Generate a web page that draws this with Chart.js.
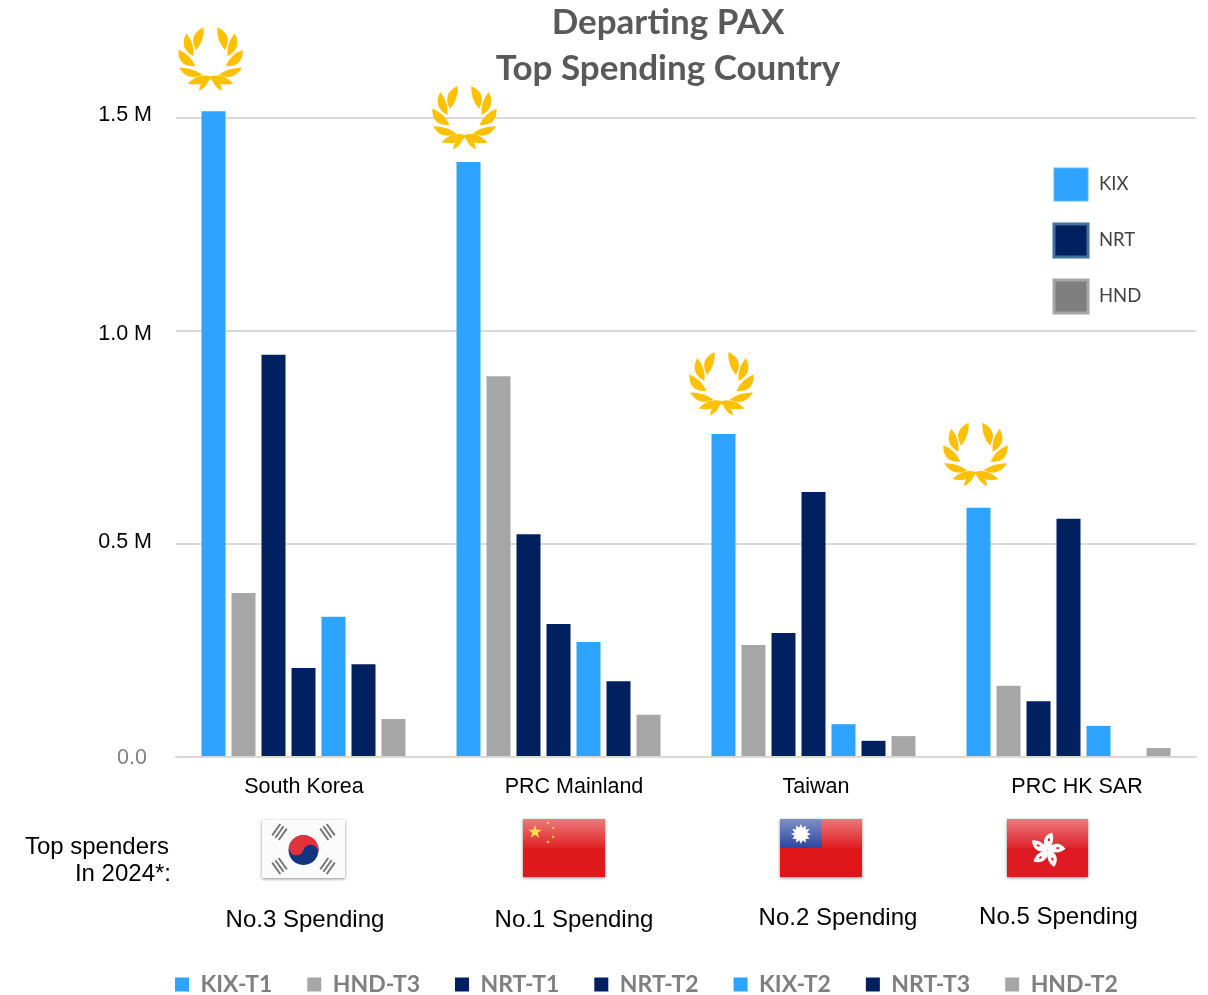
<!DOCTYPE html>
<html>
<head>
<meta charset="utf-8">
<style>html,body{margin:0;padding:0;background:#fff;overflow:hidden}canvas{display:block}</style>
<script src="https://cdn.jsdelivr.net/npm/chart.js@4"></script>
</head>
<body>
<canvas id="c" width="1208" height="995"></canvas>
<script>
const categories = ['South Korea', 'PRC Mainland', 'Taiwan', 'PRC HK SAR'];
const kixT1 = [1516000, 1397000, 758000, 585000];
const hndT3 = [385000, 894000, 263000, 167000];
const nrtT1 = [944000, 523000, 291000, 131000];
const nrtT2 = [209000, 312000, 622000, 559000];
const kixT2 = [329000, 270000, 77000, 73000];
const nrtT3 = [218000, 178000, 38000, 0];
const hndT2 = [89000, 99000, 49000, 21000];
const rankLabels = ['No.3 Spending', 'No.1 Spending', 'No.2 Spending', 'No.5 Spending'];
const miniLegend = ['KIX', 'NRT', 'HND'];
const titleLines = ['Departing PAX', 'Top Spending Country'];

const BLUE = '#2ea3ff', NAVY = '#002060', GREY = '#a6a6a6';
const ARIAL = '"Liberation Sans", Arial, sans-serif';
const LATO = 'Lato, "Open Sans", sans-serif';

function leaf(ctx, bx, by, tx, ty, a, b) {
  const mx = (bx + tx) / 2, my = (by + ty) / 2;
  const dx = tx - bx, dy = ty - by, len = Math.hypot(dx, dy);
  const nx = -dy / len, ny = dx / len;
  ctx.beginPath();
  ctx.moveTo(bx, by);
  ctx.quadraticCurveTo(mx + nx * a, my + ny * a, tx, ty);
  ctx.quadraticCurveTo(mx - nx * b, my - ny * b, bx, by);
  ctx.closePath();
  ctx.fill();
}
function laurel(ctx, cx, cy) {
  ctx.save();
  ctx.translate(cx, cy);
  ctx.fillStyle = '#ffc000';
  [1, -1].forEach(s => {
    ctx.save();
    ctx.scale(s, 1);
    leaf(ctx, 14.5, -9, 6.8, -32, 13, 5);
    leaf(ctx, 17, -3, 24.2, -26, 12, 5);
    leaf(ctx, 15, 7, 32.2, -9.5, 13, 5);
    leaf(ctx, 8, 15.5, 31.5, 8.5, 11, 4);
    ctx.beginPath();
    ctx.moveTo(-1, 17.5);
    ctx.quadraticCurveTo(12, 13, 23, 24.5);
    ctx.quadraticCurveTo(10, 27, 1, 21);
    ctx.closePath();
    ctx.fill();
    leaf(ctx, 1, 19, 11.5, 31.5, 4, 6);
    ctx.restore();
  });
  ctx.restore();
}
function gloss(ctx, x, y, w, h) {
  const g = ctx.createLinearGradient(0, y, 0, y + h * 0.5);
  g.addColorStop(0, 'rgba(255,255,255,0.42)');
  g.addColorStop(1, 'rgba(255,255,255,0.04)');
  ctx.fillStyle = g;
  ctx.fillRect(x, y, w, h * 0.5);
}
function flagBase(ctx, x, y, w, h, color) {
  ctx.save();
  ctx.shadowColor = 'rgba(0,0,0,0.45)';
  ctx.shadowBlur = 3;
  ctx.shadowOffsetY = 1;
  ctx.fillStyle = color;
  ctx.fillRect(x, y, w, h);
  ctx.restore();
}
function star(ctx, cx, cy, r, rot) {
  ctx.beginPath();
  for (let i = 0; i < 10; i++) {
    const rr = i % 2 ? r * 0.4 : r, t = rot + i * Math.PI / 5 - Math.PI / 2;
    ctx.lineTo(cx + rr * Math.cos(t), cy + rr * Math.sin(t));
  }
  ctx.closePath();
  ctx.fill();
}
function flagKR(ctx, x, y, w, h) {
  flagBase(ctx, x, y, w, h, '#fbfbfb');
  const cx = x + w / 2, cy = y + h / 2 + 1, r = 15;
  ctx.save();
  ctx.translate(cx, cy);
  ctx.rotate(0.3);
  ctx.fillStyle = '#13357f';
  ctx.beginPath(); ctx.arc(0, 0, r, 0, Math.PI * 2); ctx.fill();
  ctx.fillStyle = '#e0333c';
  ctx.beginPath(); ctx.arc(0, 0, r, Math.PI, 0);
  ctx.arc(r / 2, 0, r / 2, 0, Math.PI, true);
  ctx.arc(-r / 2, 0, r / 2, 0, Math.PI, false);
  ctx.fill();
  ctx.restore();
  ctx.fillStyle = '#777';
  [[-1, -1], [1, -1], [-1, 1], [1, 1]].forEach(([sx, sy]) => {
    ctx.save();
    ctx.translate(cx + sx * 24, cy + sy * 17 - 1);
    ctx.rotate(Math.atan2(sy * 17, sx * 24) + Math.PI / 2);
    for (let i = -1; i <= 1; i++) ctx.fillRect(-7, i * 4 - 1, 14, 2);
    ctx.restore();
  });
}
function flagCN(ctx, x, y, w, h) {
  flagBase(ctx, x, y, w, h, '#de1a1c');
  gloss(ctx, x, y, w, h);
  ctx.fillStyle = '#fde047';
  star(ctx, x + 12, y + 13, 7, 0);
  [[25, 4], [30, 9], [30, 18], [25, 23]].forEach(p => star(ctx, x + p[0], y + p[1], 1.9, 0.3));
}
function flagTW(ctx, x, y, w, h) {
  flagBase(ctx, x, y, w, h, '#de1519');
  ctx.fillStyle = '#223f9c';
  ctx.fillRect(x, y, w * 0.51, h * 0.5);
  gloss(ctx, x, y, w, h);
  const cx = x + w * 0.255, cy = y + h * 0.26;
  ctx.fillStyle = '#fff';
  ctx.beginPath();
  for (let i = 0; i < 24; i++) {
    const rr = i % 2 ? 6.5 : 10, t = i * Math.PI / 12;
    ctx.lineTo(cx + rr * Math.cos(t), cy + rr * Math.sin(t));
  }
  ctx.closePath();
  ctx.fill();
}
function flagHK(ctx, x, y, w, h) {
  flagBase(ctx, x, y, w, h, '#de1a22');
  gloss(ctx, x, y, w, h);
  const cx = x + w / 2, cy = y + h / 2 + 2;
  for (let i = 0; i < 5; i++) {
    ctx.save();
    ctx.translate(cx, cy);
    ctx.rotate(i * Math.PI * 2 / 5 + 0.15);
    ctx.scale(0.9, 0.9);
    ctx.fillStyle = '#fff';
    ctx.beginPath();
    ctx.moveTo(0, 0);
    ctx.bezierCurveTo(-8, -5, -7, -16, 2, -20);
    ctx.bezierCurveTo(6, -14, 5, -6, 0, 0);
    ctx.fill();
    ctx.fillStyle = '#de1a22';
    ctx.fillRect(-1.2, -13, 2, 3);
    ctx.restore();
  }
}

const xNudge = [0.5, 15.5, 2.5, 8.5];
const yNudge = { 0: [-5, 1], 500000: [0, -2], 1000000: [0, 3], 1500000: [0, -3] };
const laurelOffset = [[-3, -52], [-4, -44], [-2, -50], [-3, -53]];

const overlay = {
  id: 'overlay',
  afterLayout(chart) {
    chart.titleBlock.left = 128;
    chart.titleBlock.right = 1208;
    chart.legend.left = 140;
    chart.legend.right = 1208;
    const h = chart.legend.height;
    chart.legend.top = 938;
    chart.legend.bottom = 938 + h;
  },
  beforeDraw(chart) {
    const sx = chart.scales.x, sy = chart.scales.y;
    sx.getLabelItems().forEach((it, i) => {
      if (!it.__n) { it.options.translation[0] += xNudge[i]; it.__n = 1; }
    });
    sy.getLabelItems().forEach((it, i) => {
      if (!it.__n) {
        const n = yNudge[sy.ticks[i].value] || [0, 0];
        it.options.translation[0] += n[0];
        it.options.translation[1] += n[1];
        it.__n = 1;
      }
    });
  },
  afterDraw(chart) {
    const ctx = chart.ctx;
    const kixBars = chart.getDatasetMeta(0).data;
    kixBars.forEach((b, i) => laurel(ctx, b.x + laurelOffset[i][0], b.y + laurelOffset[i][1]));

    const swatches = [
      { y: 168, fill: BLUE, stroke: '#5fb8ff', lw: 1 },
      { y: 224, fill: NAVY, stroke: '#41719c', lw: 3 },
      { y: 280, fill: '#7f7f7f', stroke: '#a6a6a6', lw: 3 }
    ];
    ctx.save();
    swatches.forEach((s, i) => {
      ctx.fillStyle = s.fill;
      ctx.strokeStyle = s.stroke;
      ctx.lineWidth = s.lw;
      ctx.fillRect(1054, s.y, 34, 33);
      ctx.strokeRect(1054, s.y, 34, 33);
      ctx.fillStyle = '#404040';
      ctx.font = '18.5px ' + LATO;
      ctx.textAlign = 'left';
      ctx.textBaseline = 'middle';
      ctx.fillText(miniLegend[i], 1099, s.y + 16);
    });

    flagKR(ctx, 262, 820, 83, 58);
    flagCN(ctx, 523, 819, 82, 58);
    flagTW(ctx, 780, 819, 82, 58);
    flagHK(ctx, 1007, 819, 81, 58);

    ctx.fillStyle = '#000';
    ctx.textBaseline = 'middle';
    ctx.font = '24px ' + ARIAL;
    ctx.textAlign = 'right';
    ctx.fillText('Top spenders', 169, 847);
    ctx.fillText('In 2024*:', 171, 874);
    ctx.textAlign = 'center';
    [[305, 920], [574, 920], [838, 918], [1058.5, 917]].forEach((p, i) => ctx.fillText(rankLabels[i], p[0], p[1]));
    ctx.restore();
  }
};

const series = [
  ['KIX-T1', kixT1, BLUE], ['HND-T3', hndT3, GREY], ['NRT-T1', nrtT1, NAVY], ['NRT-T2', nrtT2, NAVY],
  ['KIX-T2', kixT2, BLUE], ['NRT-T3', nrtT3, NAVY], ['HND-T2', hndT2, GREY]
];

new Chart(document.getElementById('c'), {
  type: 'bar',
  data: {
    labels: categories,
    datasets: series.map(s => ({
      label: s[0], data: s[1], backgroundColor: s[2], borderWidth: 0,
      categoryPercentage: 210 / 255, barPercentage: 0.8, clip: false
    }))
  },
  options: {
    responsive: false,
    animation: false,
    layout: { padding: { top: 0, right: 12, left: 0, bottom: 0 } },
    scales: {
      x: {
        grid: { display: false, drawTicks: false },
        border: { color: '#d9d9d9', width: 2 },
        ticks: { color: '#000', font: { family: ARIAL, size: 21.5 }, padding: 17, maxRotation: 0, autoSkip: false },
        afterFit(s) { s.height = 170; }
      },
      y: {
        min: 0, max: 1500000,
        grid: { color: '#d9d9d9', lineWidth: 2, drawTicks: false },
        border: { display: false },
        ticks: {
          stepSize: 500000, padding: 24,
          color: c => c.tick.value === 0 ? '#7f7f7f' : '#000',
          font: { family: ARIAL, size: 21.5 },
          callback: v => v === 0 ? '0.0' : (v / 1e6).toFixed(1) + ' M'
        },
        afterFit(s) { s.width = 176; }
      }
    },
    plugins: {
      tooltip: { enabled: false },
      title: {
        display: true, text: titleLines, color: '#595959',
        font: { family: LATO, size: 35, weight: 'bold', lineHeight: 46 / 35 },
        padding: { top: 0, bottom: 26 }
      },
      legend: {
        position: 'bottom', align: 'start',
        labels: {
          color: '#7f7f7f', boxWidth: 14, boxHeight: 14, padding: 35,
          font: { family: LATO, size: 23, weight: 'bold' }
        }
      }
    }
  },
  plugins: [overlay]
});
</script>
</body>
</html>
